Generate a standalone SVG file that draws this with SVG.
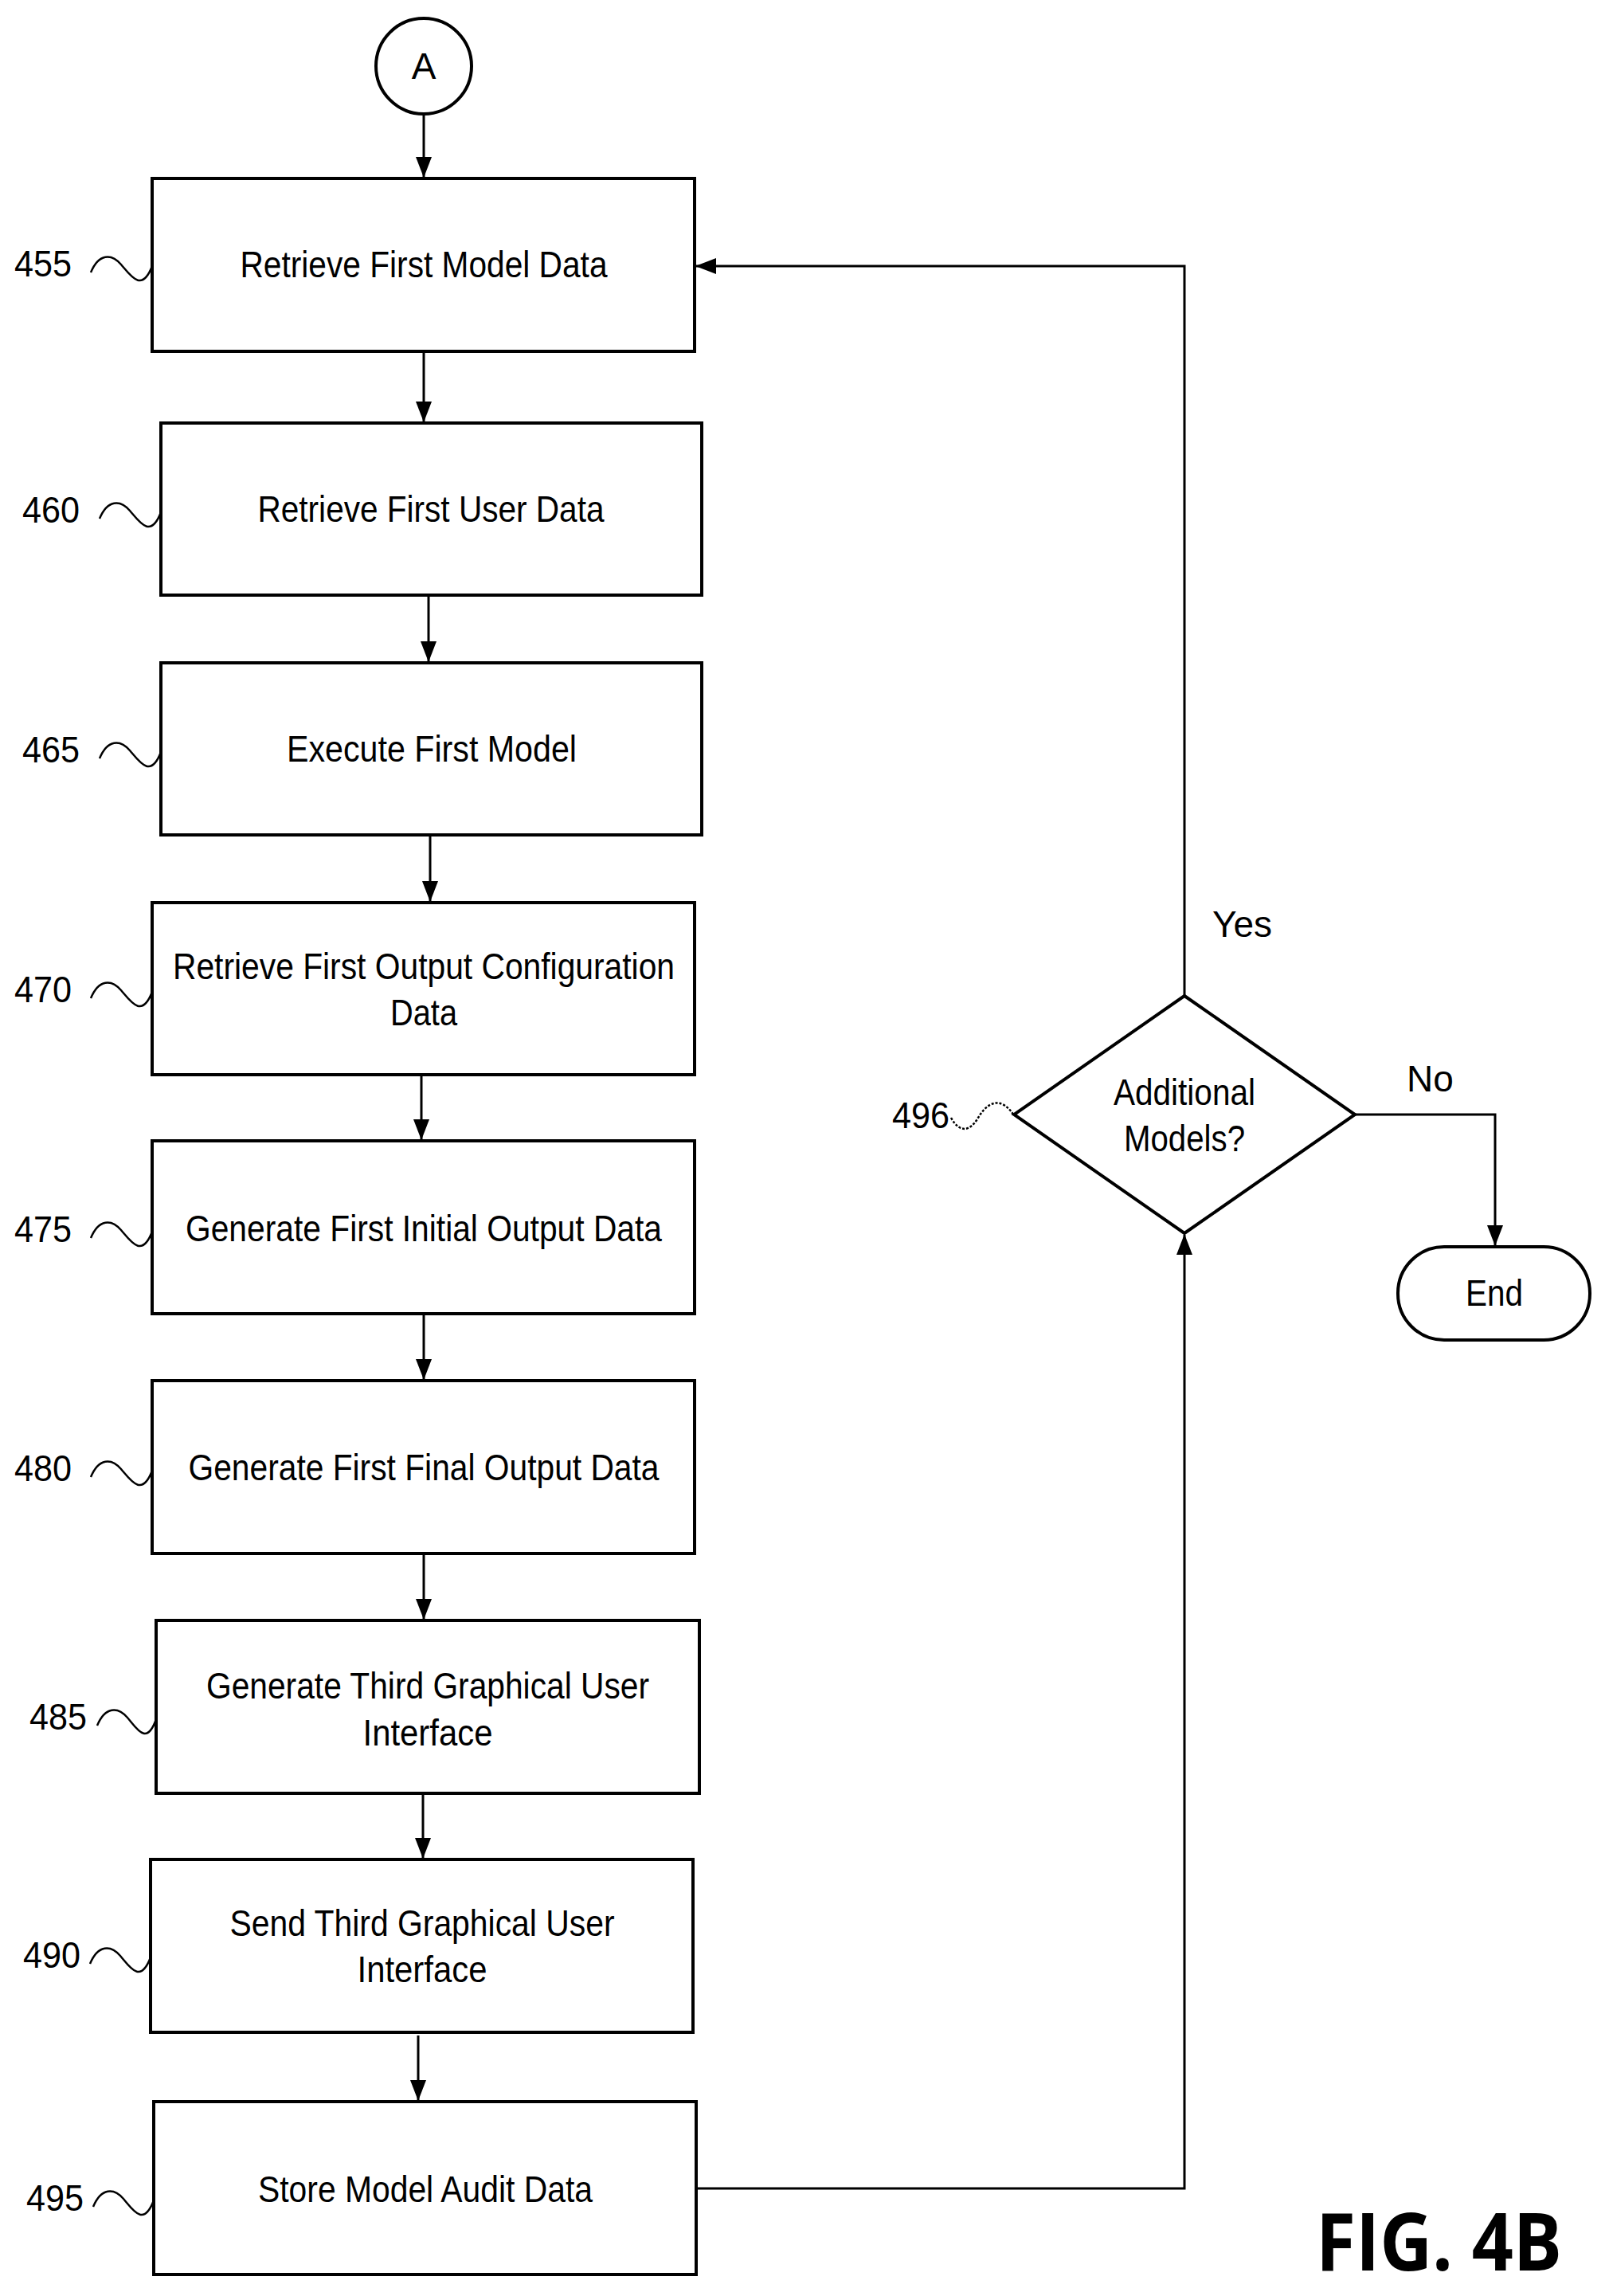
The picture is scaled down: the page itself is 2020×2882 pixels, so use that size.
<svg xmlns="http://www.w3.org/2000/svg" width="2020" height="2882" viewBox="0 0 2020 2882">
<style>
.b{fill:#fff;stroke:#000;stroke-width:4}
.t{font-family:"Liberation Sans",Arial,sans-serif;font-size:46px;text-anchor:middle;fill:#000}
.r{font-family:"Liberation Sans",Arial,sans-serif;font-size:46px;fill:#000}
.c{fill:none;stroke:#000;stroke-width:3}
.s{fill:none;stroke:#000;stroke-width:2.5}
</style>
<defs>
<marker id="ab" markerWidth="26" markerHeight="20" refX="25" refY="10" orient="auto" markerUnits="userSpaceOnUse" viewBox="0 0 26 20"><path d="M0,0 L26,10 L0,20 z" fill="#000"/></marker></defs>
<rect width="2020" height="2882" fill="#fff"/>
<g id="connectors">
<line class="c" x1="532" y1="143" x2="532" y2="222" marker-end="url(#ab)"/>
<line class="c" x1="532" y1="443" x2="532" y2="529" marker-end="url(#ab)"/>
<line class="c" x1="538" y1="749" x2="538" y2="830" marker-end="url(#ab)"/>
<line class="c" x1="540" y1="1050" x2="540" y2="1131" marker-end="url(#ab)"/>
<line class="c" x1="529" y1="1351" x2="529" y2="1430" marker-end="url(#ab)"/>
<line class="c" x1="532" y1="1651" x2="532" y2="1731" marker-end="url(#ab)"/>
<line class="c" x1="532" y1="1952" x2="532" y2="2032" marker-end="url(#ab)"/>
<line class="c" x1="531" y1="2253" x2="531" y2="2332" marker-end="url(#ab)"/>
<line class="c" x1="525" y1="2555" x2="525" y2="2636" marker-end="url(#ab)"/>
<polyline class="c" points="876,2747 1487,2747 1487,1550" marker-end="url(#ab)"/>
<polyline class="c" points="1487,1250 1487,334 874,334" marker-end="url(#ab)"/>
<polyline class="c" points="1701,1399 1877,1399 1877,1563" marker-end="url(#ab)"/>
<text class="r" x="1522" y="1176">Yes</text>
<text class="r" x="1766" y="1370">No</text>
</g>
<g id="nA"><circle cx="532" cy="83" r="60" class="b"/><text class="t" x="532" y="99">A</text></g>
<g id="n455"><rect class="b" x="191" y="224" width="681" height="217"/><text class="t" x="532" y="348" textLength="461" lengthAdjust="spacingAndGlyphs">Retrieve First Model Data</text>
<text class="r" x="18" y="347" textLength="72" lengthAdjust="spacingAndGlyphs">455</text><path class="s" d="M114 342 C124 318,140 318,152 332 S178 368,191 334"/></g>
<g id="n460"><rect class="b" x="202" y="531" width="679" height="216"/><text class="t" x="541" y="655" textLength="435" lengthAdjust="spacingAndGlyphs">Retrieve First User Data</text>
<text class="r" x="28" y="656" textLength="72" lengthAdjust="spacingAndGlyphs">460</text><path class="s" d="M125 651 C135 627,151 627,163 641 S189 677,202 643"/></g>
<g id="n465"><rect class="b" x="202" y="832" width="679" height="216"/><text class="t" x="542" y="956" textLength="364" lengthAdjust="spacingAndGlyphs">Execute First Model</text>
<text class="r" x="28" y="957" textLength="72" lengthAdjust="spacingAndGlyphs">465</text><path class="s" d="M125 952 C135 928,151 928,163 942 S189 978,202 944"/></g>
<g id="n470"><rect class="b" x="191" y="1133" width="681" height="216"/><text class="t" x="532" y="1229" textLength="630" lengthAdjust="spacingAndGlyphs">Retrieve First Output Configuration</text><text class="t" x="532" y="1287" textLength="84" lengthAdjust="spacingAndGlyphs">Data</text>
<text class="r" x="18" y="1258" textLength="72" lengthAdjust="spacingAndGlyphs">470</text><path class="s" d="M114 1253 C124 1229,140 1229,152 1243 S178 1279,191 1245"/></g>
<g id="n475"><rect class="b" x="191" y="1432" width="681" height="217"/><text class="t" x="532" y="1558" textLength="598" lengthAdjust="spacingAndGlyphs">Generate First Initial Output Data</text>
<text class="r" x="18" y="1559" textLength="72" lengthAdjust="spacingAndGlyphs">475</text><path class="s" d="M114 1554 C124 1530,140 1530,152 1544 S178 1580,191 1546"/></g>
<g id="n480"><rect class="b" x="191" y="1733" width="681" height="217"/><text class="t" x="532" y="1858" textLength="591" lengthAdjust="spacingAndGlyphs">Generate First Final Output Data</text>
<text class="r" x="18" y="1859" textLength="72" lengthAdjust="spacingAndGlyphs">480</text><path class="s" d="M114 1854 C124 1830,140 1830,152 1844 S178 1880,191 1846"/></g>
<g id="n485"><rect class="b" x="196" y="2034" width="682" height="217"/><text class="t" x="537" y="2132" textLength="556" lengthAdjust="spacingAndGlyphs">Generate Third Graphical User</text><text class="t" x="537" y="2191" textLength="163" lengthAdjust="spacingAndGlyphs">Interface</text>
<text class="r" x="37" y="2171" textLength="72" lengthAdjust="spacingAndGlyphs">485</text><path class="s" d="M122 2166 C132 2142,148 2142,160 2156 S184 2192,196 2158"/></g>
<g id="n490"><rect class="b" x="189" y="2334" width="681" height="217"/><text class="t" x="530" y="2430" textLength="483" lengthAdjust="spacingAndGlyphs">Send Third Graphical User</text><text class="t" x="530" y="2488" textLength="163" lengthAdjust="spacingAndGlyphs">Interface</text>
<text class="r" x="29" y="2470" textLength="72" lengthAdjust="spacingAndGlyphs">490</text><path class="s" d="M113 2465 C123 2441,139 2441,151 2455 S176 2491,189 2457"/></g>
<g id="n495"><rect class="b" x="193" y="2638" width="681" height="217"/><text class="t" x="534" y="2764" textLength="420" lengthAdjust="spacingAndGlyphs">Store Model Audit Data</text>
<text class="r" x="33" y="2775" textLength="72" lengthAdjust="spacingAndGlyphs">495</text><path class="s" d="M117 2770 C127 2746,143 2746,155 2760 S180 2796,193 2762"/></g>
<g id="n496"><polygon class="b" points="1487,1250 1701,1399 1487,1548 1273,1399"/><text class="t" x="1487" y="1387" textLength="178" lengthAdjust="spacingAndGlyphs">Additional</text><text class="t" x="1487" y="1445" textLength="152" lengthAdjust="spacingAndGlyphs">Models?</text>
<text class="r" x="1120" y="1416" textLength="72" lengthAdjust="spacingAndGlyphs">496</text><path class="s" d="M1194 1403 C1205 1423,1218 1420,1228 1403 S1255 1373,1273 1400" stroke-dasharray="3 2"/></g>
<g id="nEnd"><rect class="b" x="1755" y="1565" width="241" height="117" rx="58" ry="58"/><text class="t" x="1876" y="1639" textLength="72" lengthAdjust="spacingAndGlyphs">End</text></g>
<text x="1652" y="2850" font-family="'Open Sans','DejaVu Sans',sans-serif" font-size="100" font-weight="bold" textLength="309" lengthAdjust="spacingAndGlyphs">FIG. 4B</text>
</svg>
